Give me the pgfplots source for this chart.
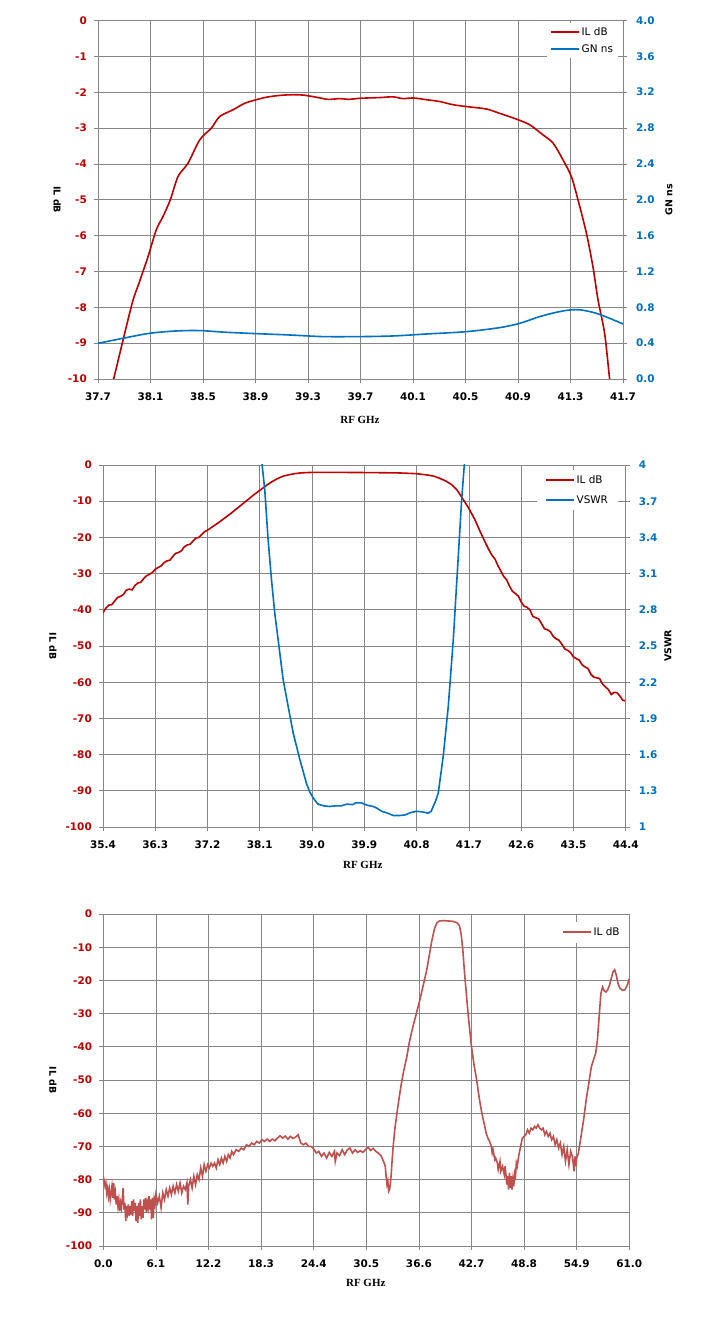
\documentclass[border=0pt]{standalone}
\usepackage{pgfplots}
\pgfplotsset{compat=1.18}
\usepackage{fontspec}
\setmainfont{Liberation Serif}
\newfontfamily\sansf{DejaVu Sans}
\definecolor{ilred}{HTML}{C00000}
\definecolor{gnblue}{HTML}{0070C0}
\definecolor{ilthree}{HTML}{C0504D}
\definecolor{gridc}{HTML}{868686}
\pgfplotsset{
  excel/.style={
    scale only axis,
    axis line style={gridc, line width=0.75bp},
    grid style={gridc, line width=0.75bp},
    tick style={gridc, line width=0.75bp},
    tick align=outside,
    major tick length=4bp,
    every tick label/.append style={font=\sansf\bfseries\fontsize{10.5}{12}\selectfont, inner sep=0pt},
    xticklabel style={yshift=-10bp, black},
    xlabel style={font=\rmfamily\bfseries\fontsize{11}{13}\selectfont, anchor=center},
    ylabel style={font=\sansf\bfseries\fontsize{9.5}{11}\selectfont, anchor=center},
    legend image code/.code={\draw[##1, line width=1.6bp] (0bp,0bp) -- (28bp,0bp);},
    legend cell align=left,
  },
  leftax/.style={ytick pos=left, xtick pos=bottom, grid=major, yticklabel style={xshift=-7bp, ilred}},
  rightax/.style={axis y line*=right, axis x line=none, yticklabel style={xshift=9bp, gnblue}},
}
\begin{document}
\begin{tikzpicture}
\useasboundingbox (0,0) rectangle (718bp,1332bp);
% ---------------- Panel 1 ----------------
\begin{axis}[excel, leftax, at={(98bp,953bp)}, anchor=south west, width=525bp, height=358.5bp,
  xmin=37.7, xmax=41.7, ymin=-10, ymax=0,
  xtick={37.7,38.1,38.5,38.9,39.3,39.7,40.1,40.5,40.9,41.3,41.7},
  xticklabels={37.7,38.1,38.5,38.9,39.3,39.7,40.1,40.5,40.9,41.3,41.7},
  ytick={-10,-9,-8,-7,-6,-5,-4,-3,-2,-1,0},
  yticklabels={-10,-9,-8,-7,-6,-5,-4,-3,-2,-1,0},
  xlabel={RF GHz}, ylabel={IL dB},
  xlabel style={at={(axis description cs:0.499,-0.1135)}},
  ylabel style={at={(axis description cs:-0.078,0.5)}, rotate=180}]
\addplot[ilred, line width=1.6bp, smooth] coordinates {
(37.80,-10.2) (37.819,-10) (37.903,-8.73) (37.967,-7.80) (38.012,-7.33) (38.081,-6.59) (38.144,-5.84)
(38.195,-5.47) (38.251,-5.00) (38.310,-4.35) (38.386,-3.98) (38.475,-3.33) (38.564,-3.00)
(38.627,-2.68) (38.729,-2.49) (38.818,-2.31) (38.906,-2.21) (38.983,-2.14) (39.084,-2.09)
(39.186,-2.07) (39.262,-2.08) (39.363,-2.14) (39.452,-2.20) (39.541,-2.18) (39.617,-2.20)
(39.694,-2.17) (39.847,-2.15) (39.948,-2.13) (40.024,-2.18) (40.100,-2.16) (40.202,-2.21)
(40.303,-2.26) (40.405,-2.35) (40.506,-2.40) (40.659,-2.47) (40.760,-2.59) (40.887,-2.75)
(40.989,-2.91) (41.090,-3.19) (41.167,-3.42) (41.243,-3.89) (41.306,-4.35) (41.357,-5.00)
(41.421,-5.93) (41.471,-6.87) (41.510,-7.80) (41.560,-8.73) (41.598,-10) (41.61,-10.3)};
\end{axis}
\begin{axis}[excel, rightax, at={(98bp,953bp)}, anchor=south west, width=525bp, height=358.5bp,
  xmin=37.7, xmax=41.7, ymin=0, ymax=4,
  ytick={0,0.4,0.8,1.2,1.6,2,2.4,2.8,3.2,3.6,4},
  yticklabels={0.0,0.4,0.8,1.2,1.6,2.0,2.4,2.8,3.2,3.6,4.0},
  ylabel={GN ns},
  ylabel style={at={(axis description cs:1.0876,0.5)}, rotate=0},
  legend style={at={(axis description cs:0.855,0.993)}, anchor=north west, draw=none, fill=white,
    font=\sansf\fontsize{10.5}{12}\selectfont, row sep=4bp, inner xsep=3pt, inner ysep=2pt}]
\addlegendimage{ilred, line width=1.6bp}
\addlegendentry{IL dB}
\addplot[gnblue, line width=1.6bp, smooth] coordinates {
(37.7,0.398) (37.890,0.454) (38.094,0.510) (38.297,0.536) (38.475,0.540) (38.678,0.521)
(38.906,0.506) (39.160,0.491) (39.414,0.473) (39.694,0.473) (39.948,0.480) (40.202,0.502)
(40.506,0.528) (40.760,0.573) (40.913,0.621) (41.065,0.696) (41.192,0.744) (41.294,0.770)
(41.383,0.770) (41.497,0.733) (41.598,0.677) (41.700,0.614)};
\addlegendentry{GN ns}
\end{axis}
% ---------------- Panel 2 ----------------
\begin{axis}[excel, leftax, at={(103bp,505bp)}, anchor=south west, width=522.7bp, height=362bp,
  xmin=35.4, xmax=44.4, ymin=-100, ymax=0,
  xtick={35.4,36.3,37.2,38.1,39.0,39.9,40.8,41.7,42.6,43.5,44.4},
  xticklabels={35.4,36.3,37.2,38.1,39.0,39.9,40.8,41.7,42.6,43.5,44.4},
  ytick={-100,-90,-80,-70,-60,-50,-40,-30,-20,-10,0},
  yticklabels={-100,-90,-80,-70,-60,-50,-40,-30,-20,-10,0},
  xlabel={RF GHz}, ylabel={IL dB},
  xlabel style={at={(axis description cs:0.497,-0.105)}},
  ylabel style={at={(axis description cs:-0.0957,0.5)}, rotate=180}]
\addplot[ilred, line width=1.6bp] coordinates {
(35.40,-40.8) (35.45,-39.5) (35.50,-38.7) (35.55,-38.6) (35.60,-37.6) (35.65,-36.6) (35.70,-36.3)
(35.75,-35.8) (35.80,-34.6) (35.85,-34.3) (35.90,-34.5) (35.95,-33.3) (36.00,-32.6) (36.05,-32.4)
(36.10,-31.4) (36.15,-30.6) (36.20,-30.2) (36.25,-29.7) (36.30,-28.8) (36.35,-28.3) (36.40,-27.9)
(36.45,-27.0) (36.50,-26.5) (36.55,-26.3) (36.60,-25.3) (36.65,-24.4) (36.70,-24.2) (36.75,-23.7)
(36.80,-22.6) (36.85,-22.1) (36.90,-21.9) (36.95,-21.0) (37.00,-20.2) (37.05,-20.0) (37.10,-19.2)
(37.15,-18.4) (37.20,-18.0) (37.30,-16.9) (37.40,-15.8) (37.50,-14.6) (37.60,-13.4) (37.70,-12.1)
(37.80,-10.8) (37.90,-9.5) (38.00,-8.2) (38.10,-7.0) (38.20,-5.8) (38.30,-4.7) (38.40,-3.8)
(38.50,-3.1) (38.60,-2.7) (38.70,-2.4) (38.80,-2.2) (38.90,-2.1) (39.00,-2.05) (39.50,-2.05)
(40.00,-2.1) (40.50,-2.2) (40.80,-2.4) (41.00,-2.8) (41.10,-3.1) (41.20,-3.7) (41.30,-4.4)
(41.40,-5.4) (41.50,-7.0) (41.60,-9.5) (41.70,-12.0) (41.80,-15.0) (41.90,-18.6) (42.00,-22.0)
(42.05,-23.6) (42.10,-25.0) (42.15,-26.0) (42.20,-27.8) (42.25,-29.3) (42.30,-30.8) (42.35,-31.7)
(42.40,-33.5) (42.45,-34.9) (42.50,-35.5) (42.55,-36.2) (42.60,-37.8) (42.65,-39.0) (42.70,-39.3)
(42.75,-40.0) (42.80,-41.8) (42.85,-42.2) (42.90,-42.5) (42.95,-43.8) (43.00,-45.2) (43.05,-45.5)
(43.10,-46.0) (43.15,-47.3) (43.20,-48.0) (43.25,-48.4) (43.30,-49.5) (43.35,-50.8) (43.40,-51.2)
(43.45,-51.8) (43.50,-53.0) (43.55,-53.5) (43.60,-53.9) (43.65,-55.2) (43.70,-55.8) (43.75,-56.2)
(43.80,-57.8) (43.85,-58.6) (43.90,-58.8) (43.95,-59.0) (44.00,-60.5) (44.05,-61.3) (44.10,-62.0)
(44.15,-63.4) (44.20,-62.8) (44.25,-62.9) (44.30,-63.8) (44.35,-65.0) (44.40,-65.2)};
\end{axis}
\begin{axis}[excel, rightax, at={(103bp,505bp)}, anchor=south west, width=522.7bp, height=362bp,
  xmin=35.4, xmax=44.4, ymin=1, ymax=4,
  ytick={1,1.3,1.6,1.9,2.2,2.5,2.8,3.1,3.4,3.7,4},
  yticklabels={1,1.3,1.6,1.9,2.2,2.5,2.8,3.1,3.4,3.7,4},
  ylabel={VSWR},
  ylabel style={at={(axis description cs:1.081,0.5)}, rotate=0},
  legend style={at={(axis description cs:0.83,0.986)}, anchor=north west, draw=none, fill=white,
    font=\sansf\fontsize{10.5}{12}\selectfont, row sep=7bp, inner xsep=8pt, inner ysep=3pt}]
\addlegendimage{ilred, line width=1.6bp}
\addlegendentry{IL dB}
\addplot[gnblue, line width=1.6bp] coordinates {
(38.13,4.05) (38.14,4.0) (38.186,3.79) (38.243,3.38) (38.301,3.05) (38.358,2.77) (38.416,2.55)
(38.502,2.22) (38.588,2.00) (38.674,1.78) (38.789,1.56) (38.904,1.36) (38.96,1.29) (39.019,1.24)
(39.10,1.19) (39.20,1.175) (39.30,1.17) (39.40,1.175) (39.50,1.175) (39.60,1.19) (39.70,1.185)
(39.75,1.20) (39.85,1.20) (39.95,1.18) (40.05,1.17) (40.10,1.16) (40.20,1.13) (40.30,1.115)
(40.40,1.095) (40.50,1.095) (40.60,1.10) (40.70,1.12) (40.80,1.13) (40.90,1.125) (41.00,1.115)
(41.05,1.13) (41.086,1.17) (41.13,1.22) (41.172,1.28) (41.22,1.45) (41.259,1.59) (41.345,2.00)
(41.431,2.55) (41.517,3.24) (41.575,3.71) (41.621,4.0) (41.63,4.05)};
\addlegendentry{VSWR}
\end{axis}
% ---------------- Panel 3 ----------------
\begin{axis}[excel, leftax, at={(103.3bp,86bp)}, anchor=south west, width=526bp, height=332bp,
  xmin=0, xmax=61, ymin=-100, ymax=0,
  xtick={0,6.1,12.2,18.3,24.4,30.5,36.6,42.7,48.8,54.9,61.0},
  xticklabels={0.0,6.1,12.2,18.3,24.4,30.5,36.6,42.7,48.8,54.9,61.0},
  ytick={-100,-90,-80,-70,-60,-50,-40,-30,-20,-10,0},
  yticklabels={-100,-90,-80,-70,-60,-50,-40,-30,-20,-10,0},
  xlabel={RF GHz}, ylabel={IL dB},
  xlabel style={at={(axis description cs:0.499,-0.111)}},
  ylabel style={at={(axis description cs:-0.0956,0.5)}, rotate=180},
  legend style={at={(axis description cs:0.866,0.978)}, anchor=north west, draw=none, fill=white,
    font=\sansf\fontsize{10.5}{12}\selectfont, inner xsep=3pt, inner ysep=4pt}]
\addplot[ilthree, line width=1.6bp] coordinates {
(0.0,-79) (0.1,-80.5) (0.2,-82) (0.3,-81) (0.4,-84) (0.5,-82.5) (0.6,-85) (0.7,-83) (0.8,-86)
(0.9,-84) (1.0,-82) (1.1,-85.5) (1.2,-81) (1.3,-86) (1.4,-84) (1.5,-87.5) (1.6,-85) (1.7,-88)
(1.8,-86) (1.9,-89.5) (2.0,-87) (2.1,-88.5) (2.2,-86) (2.3,-82.5) (2.4,-89) (2.5,-87) (2.6,-92.5)
(2.7,-88) (2.8,-90) (2.9,-87.5) (3.0,-91) (3.1,-88) (3.2,-90.5) (3.3,-86.5) (3.4,-91) (3.5,-86)
(3.6,-89.5) (3.7,-87) (3.8,-92.5) (3.9,-88) (4.0,-93) (4.1,-87) (4.2,-91) (4.3,-86) (4.4,-92)
(4.5,-88) (4.6,-91.5) (4.7,-86) (4.8,-89) (4.9,-85.5) (5.0,-90) (5.1,-87) (5.2,-88.5) (5.3,-85)
(5.4,-89) (5.5,-86) (5.6,-92) (5.7,-85.5) (5.8,-91.5) (5.9,-86) (6.0,-87.5) (6.1,-84.5) (6.3,-87)
(6.5,-85) (6.7,-88.5) (6.9,-84) (7.1,-86) (7.3,-83) (7.5,-85) (7.7,-82.5) (7.9,-84.5) (8.1,-82)
(8.3,-84) (8.5,-81.5) (8.7,-83.5) (8.9,-81) (9.1,-84) (9.3,-82) (9.5,-83) (9.7,-81) (9.8,-87.5)
(9.9,-82) (10.1,-80) (10.3,-82.5) (10.5,-79) (10.7,-81.5) (10.9,-78.5) (11.1,-80) (11.3,-76.5)
(11.5,-79) (11.7,-75.5) (11.9,-77.5) (12.1,-75.5) (12.3,-76.5) (12.5,-75) (12.7,-76) (12.9,-75)
(13.1,-76.5) (13.3,-74) (13.5,-75.5) (13.7,-73.5) (13.9,-75) (14.1,-73) (14.3,-74.5) (14.5,-72.5)
(14.7,-73.5) (14.9,-71.5) (15.1,-72.5) (15.4,-71) (15.7,-71.5) (16.0,-70.5) (16.3,-71) (16.6,-69.5)
(16.9,-70) (17.2,-69) (17.5,-69.5) (17.8,-68.5) (18.1,-69) (18.4,-68) (18.7,-68.5) (19.0,-67.8)
(19.3,-68.5) (19.6,-67.8) (19.9,-68.3) (20.2,-67.5) (20.5,-66.8) (20.8,-67.5) (21.1,-66.9)
(21.4,-67.8) (21.7,-67) (22.0,-67.6) (22.3,-67.2) (22.6,-66.5) (22.9,-69) (23.2,-69.5) (23.5,-69)
(23.8,-70) (24.1,-70) (24.4,-70.8) (24.7,-72) (25.0,-71.5) (25.3,-73) (25.6,-72) (25.9,-73.5)
(26.2,-71.8) (26.5,-73) (26.8,-71.5) (26.9,-74.5) (27.1,-72) (27.4,-72.8) (27.7,-71) (28.0,-72.5)
(28.3,-71) (28.6,-70.5) (28.9,-72) (29.2,-71) (29.5,-71.8) (29.8,-71.3) (30.1,-71.8) (30.4,-71)
(30.7,-70.3) (31.0,-71.2) (31.3,-70.6) (31.6,-71.5) (31.9,-72) (32.2,-72.8) (32.5,-74.5) (32.7,-76)
(32.8,-79) (32.9,-81.5) (33.0,-80.5) (33.1,-83.5) (33.2,-83) (33.3,-81) (33.4,-78) (33.5,-74)
(33.6,-70.5) (33.8,-65) (34.0,-61) (34.3,-55.5) (34.6,-50.5) (34.9,-46.5) (35.2,-43) (35.5,-38.5)
(35.9,-34) (36.3,-30) (36.7,-26) (37.1,-21.5) (37.5,-17) (37.8,-12.5) (38.1,-8) (38.4,-4.5)
(38.7,-2.6) (39.0,-2.1) (39.5,-2.0) (40.0,-2.1) (40.5,-2.2) (41.0,-2.6) (41.3,-3.5) (41.5,-6)
(41.7,-11) (41.9,-18) (42.1,-24) (42.3,-30) (42.5,-35) (42.7,-40) (43.0,-45.5) (43.3,-50)
(43.6,-55.5) (43.9,-60) (44.2,-63.5) (44.4,-66) (44.6,-67.5) (44.8,-68.5) (45.0,-70) (45.1,-72)
(45.2,-71) (45.4,-74) (45.5,-73.5) (45.7,-75) (45.8,-77) (46.0,-74.5) (46.1,-77.5) (46.3,-76)
(46.5,-78.5) (46.6,-76) (46.8,-81.5) (46.9,-79) (47.0,-83) (47.1,-78) (47.2,-82.5) (47.3,-79)
(47.4,-83) (47.5,-80) (47.6,-82) (47.7,-78) (47.8,-79) (47.9,-75) (48.0,-76) (48.2,-72.5)
(48.4,-70) (48.6,-67.5) (48.8,-67) (49.0,-66.5) (49.2,-65) (49.4,-66) (49.6,-64.5) (49.8,-65)
(50.0,-64) (50.2,-64.5) (50.4,-63.5) (50.6,-64.5) (50.8,-65) (51.0,-64.5) (51.2,-66.5) (51.4,-65.5)
(51.6,-67) (51.8,-66) (52.0,-68) (52.2,-67) (52.4,-69.5) (52.6,-68) (52.8,-70.5) (53.0,-69)
(53.2,-72.5) (53.4,-70) (53.6,-74.5) (53.8,-71) (54.0,-75.5) (54.2,-71.5) (54.4,-73) (54.6,-77.5)
(54.7,-73) (54.8,-76) (54.9,-73.5) (55.1,-72) (55.4,-67) (55.7,-62) (56.0,-56) (56.3,-51)
(56.6,-46) (56.9,-43.5) (57.1,-42) (57.3,-38) (57.5,-31) (57.7,-24) (57.9,-22) (58.1,-23.2)
(58.3,-23.5) (58.5,-22.8) (58.7,-21.5) (58.9,-19.5) (59.1,-17.5) (59.3,-16.8) (59.5,-18.5)
(59.7,-21) (59.9,-22.3) (60.2,-23) (60.5,-22.8) (60.8,-21.2) (61.0,-19.5)};
\addlegendentry{IL dB}
\end{axis}
\end{tikzpicture}
\end{document}
